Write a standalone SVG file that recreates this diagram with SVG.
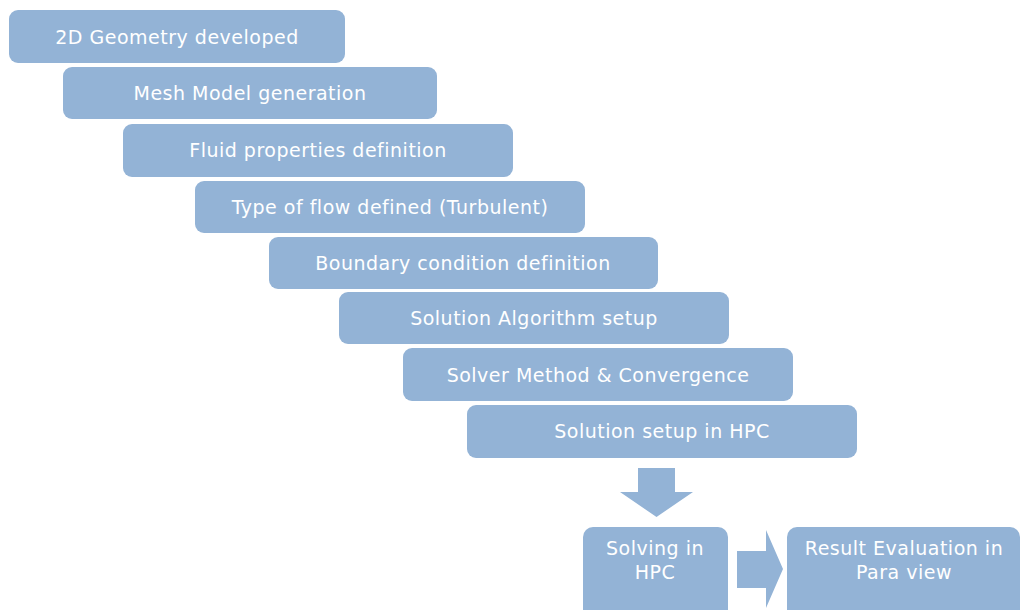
<svg xmlns="http://www.w3.org/2000/svg" width="1022" height="610" viewBox="0 0 1022 610">
<style>
.box{fill:#93b3d6;}
.t{fill:#ffffff;font-family:"DejaVu Sans",sans-serif;font-size:19px;letter-spacing:0.5px;text-anchor:middle;dominant-baseline:central;}
.arr{fill:#93b3d6;}
</style>
<rect width="1022" height="610" fill="#ffffff"/>
<g id="n1"><rect class="box" x="9" y="10" width="336" height="53" rx="9"/><text class="t" x="177" y="37">2D Geometry developed</text></g>
<g id="n2"><rect class="box" x="63" y="67" width="374" height="52" rx="9"/><text class="t" x="250" y="93">Mesh Model generation</text></g>
<g id="n3"><rect class="box" x="123" y="124" width="390" height="53" rx="9"/><text class="t" x="318" y="150">Fluid properties definition</text></g>
<g id="n4"><rect class="box" x="195" y="181" width="390" height="52" rx="9"/><text class="t" x="390" y="207">Type of flow defined (Turbulent)</text></g>
<g id="n5"><rect class="box" x="269" y="237" width="389" height="52" rx="9"/><text class="t" x="463" y="263">Boundary condition definition</text></g>
<g id="n6"><rect class="box" x="339" y="292" width="390" height="52" rx="9"/><text class="t" x="534" y="318">Solution Algorithm setup</text></g>
<g id="n7"><rect class="box" x="403" y="348" width="390" height="53" rx="9"/><text class="t" x="598" y="375">Solver Method &amp; Convergence</text></g>
<g id="n8"><rect class="box" x="467" y="405" width="390" height="53" rx="9"/><text class="t" x="662" y="431">Solution setup in HPC</text></g>
<g id="n9"><rect class="box" x="583" y="527" width="145" height="95" rx="10"/><text class="t" x="655" y="548">Solving in</text><text class="t" x="655" y="572">HPC</text></g>
<g id="n10"><rect class="box" x="787" y="527" width="233" height="95" rx="10"/><text class="t" x="904" y="548">Result Evaluation in</text><text class="t" x="904" y="572">Para view</text></g>
<g id="connectors">
<polygon class="arr" points="638,468 675,468 675,492 693,492 656.5,517 620,492 638,492"/>
<polygon class="arr" points="737,551 766,551 766,530 783,569 766,608 766,588 737,588"/>
</g>
</svg>
